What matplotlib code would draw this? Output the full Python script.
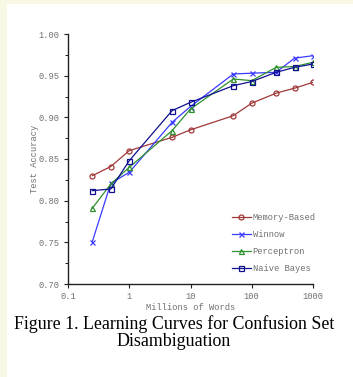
import matplotlib
matplotlib.use("Agg")
import matplotlib.pyplot as plt
from matplotlib.ticker import FixedLocator, NullLocator, MultipleLocator
import matplotlib.patches as mpatches

words = [0.25, 0.5, 1, 5, 10, 50, 100, 250, 500, 1000]
memory_based = [0.830, 0.841, 0.860, 0.876, 0.885, 0.902, 0.917, 0.929, 0.935, 0.942]
winnow = [0.751, 0.821, 0.834, 0.894, 0.913, 0.952, 0.953, 0.954, 0.971, 0.974]
perceptron = [0.791, 0.820, 0.840, 0.884, 0.910, 0.946, 0.944, 0.960, 0.961, 0.966]
naive_bayes = [0.812, 0.814, 0.848, 0.908, 0.918, 0.938, 0.943, 0.954, 0.960, 0.964]
x_ticks = [0.1, 1, 10, 100, 1000]
x_tick_labels = ["0.1", "1", "10", "100", "1000"]
y_ticks = [0.70, 0.75, 0.80, 0.85, 0.90, 0.95, 1.00]
y_tick_labels = ["0.70", "0.75", "0.80", "0.85", "0.90", "0.95", "1.00"]

W, H = 353, 377
fig = plt.figure(figsize=(W / 100, H / 100), dpi=100)
fig.patch.set_facecolor("white")
# cream border strips (left and top)
fig.add_artist(mpatches.Rectangle((0, 0), 7 / W, 1, transform=fig.transFigure,
                                  facecolor="#f8f8e4", edgecolor="none", zorder=0))
fig.add_artist(mpatches.Rectangle((0, 1 - 4 / H), 1, 4 / H, transform=fig.transFigure,
                                  facecolor="#f8f8e4", edgecolor="none", zorder=0))

ax = fig.add_axes([68 / W, 1 - 284 / H, (313 - 68) / W, (284 - 34) / H])
ax.set_facecolor("none")

mono = "Liberation Mono"
tc = "#707070"

series = [
    (memory_based, "Memory-Based", "#a03838", "o"),
    (winnow, "Winnow", "#3a3aff", "x"),
    (perceptron, "Perceptron", "#2e902e", "^"),
    (naive_bayes, "Naive Bayes", "#101090", "s"),
]
for vals, lab, col, mk in series:
    ax.plot(words, vals, color=col, lw=0.9, marker=mk, markersize=3.6,
            markerfacecolor="none" if mk != "x" else col, markeredgecolor=col,
            markeredgewidth=0.9, label=lab)

ax.set_xscale("log")
ax.set_xlim(0.1, 1000)
ax.set_ylim(0.70, 1.00)
ax.xaxis.set_major_locator(FixedLocator(x_ticks))
ax.xaxis.set_minor_locator(NullLocator())
ax.set_xticklabels(x_tick_labels)
ax.yaxis.set_major_locator(FixedLocator(y_ticks))
ax.set_yticklabels(y_tick_labels)
ax.yaxis.set_minor_locator(MultipleLocator(0.025))

for s in ["top", "right"]:
    ax.spines[s].set_visible(False)
for s in ["left", "bottom"]:
    ax.spines[s].set_linewidth(1.0)
    ax.spines[s].set_color("#202020")

ax.tick_params(axis="both", which="major", direction="out", length=3, width=0.8,
               color="#202020", labelsize=6.3, labelcolor=tc, pad=3)
ax.tick_params(axis="y", which="minor", direction="out", length=2, width=0.7, color="#202020")
for t in ax.get_xticklabels() + ax.get_yticklabels():
    t.set_fontfamily(mono)

ax.set_xlabel("Millions of Words", fontsize=6.3, family=mono, color=tc, labelpad=1)
ax.set_ylabel("Test Accuracy", fontsize=6.3, family=mono, color=tc, labelpad=0)

leg = ax.legend(loc="lower right", bbox_to_anchor=(1.025, 0.03), frameon=False,
                prop={"family": mono, "size": 6.3}, handlelength=2.2,
                handletextpad=0.2, labelspacing=0.9, borderaxespad=0)
for t in leg.get_texts():
    t.set_color(tc)

fig.text(174 / W, 1 - 324 / H, "Figure 1. Learning Curves for Confusion Set",
         ha="center", va="center", family="Liberation Serif", fontsize=12.9, color="black")
fig.text(174 / W, 1 - 342 / H, "Disambiguation",
         ha="center", va="center", family="Liberation Serif", fontsize=12.9, color="black")

fig.savefig("out.png", dpi=100)
